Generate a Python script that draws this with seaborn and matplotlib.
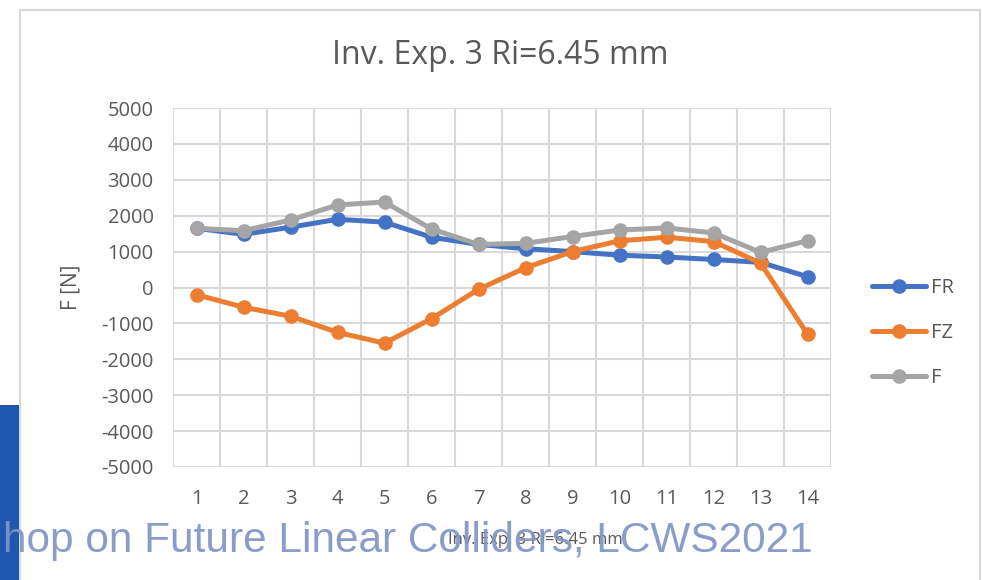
import matplotlib
matplotlib.use("Agg")
import matplotlib.pyplot as plt
from matplotlib.patches import Rectangle
import numpy as np
import pandas as pd
import seaborn as sns

# Measurement positions and force components [N]
positions = list(range(1, 15))
fr = [1650, 1480, 1680, 1900, 1820, 1400, 1200, 1080, 1000, 900, 850, 780, 700, 300]
fz = [-200, -550, -800, -1250, -1550, -870, -50, 550, 1000, 1300, 1400, 1280, 680, -1300]
f_total = [1650, 1580, 1880, 2300, 2380, 1630, 1200, 1230, 1420, 1600, 1660, 1520, 980, 1300]
series_names = ["FR", "FZ", "F"]
series_colors = ["#4472C4", "#ED7D31", "#A5A5A5"]
y_ticks = list(range(-5000, 5001, 1000))
x_labels = [str(p) for p in positions]

title_text = "Inv. Exp. 3 Ri=6.45 mm"
x_title = "Inv. Exp. 3 Ri=6.45 mm"
y_title = "F [N]"
banner_text = "hop on Future Linear Colliders, LCWS2021"

sns.set_theme(style="white")
plt.rcParams["font.family"] = ["Open Sans", "DejaVu Sans"]

W, H = 982, 580
fig = plt.figure(figsize=(W / 100, H / 100), dpi=100)
fig.patch.set_facecolor("white")

# chart frame and side bar
fig.patches.append(Rectangle((20 / W, -0.05), (980 - 20) / W, 1 - 10 / H + 0.05,
                             transform=fig.transFigure, fill=False,
                             edgecolor="#D9D9D9", linewidth=1.6, zorder=0))
fig.patches.append(Rectangle((0, 0), 19 / W, (H - 405) / H,
                             transform=fig.transFigure, facecolor="#1F56B0",
                             edgecolor="none", zorder=0))

ax = fig.add_axes([173 / W, 1 - 467 / H, (831 - 173) / W, (467 - 108) / H])
ax.set_facecolor("none")

df = pd.DataFrame({
    "pos": positions * 3,
    "value": fr + fz + f_total,
    "series": np.repeat(series_names, len(positions)),
})
sns.lineplot(data=df, x="pos", y="value", hue="series", hue_order=series_names,
             palette=series_colors, marker="o", markersize=10.5, markeredgewidth=0,
             linewidth=3.6, errorbar=None, sort=False, legend=False, ax=ax)
for ln in ax.lines:
    ln.set_solid_capstyle("round")
    ln.set_solid_joinstyle("round")

ax.set_xlim(0.5, 14.5)
ax.set_ylim(-5000, 5000)
ax.set_xticks(positions)
ax.set_xticklabels(x_labels)
ax.set_xticks(np.arange(0.5, 15, 1.0), minor=True)
ax.set_yticks(y_ticks)
ax.set_yticklabels([str(v) for v in y_ticks])
ax.set_axisbelow(True)
ax.grid(False)
ax.grid(which="minor", axis="x", color="#D9D9D9", linewidth=1.5)
ax.grid(which="major", axis="y", color="#D9D9D9", linewidth=1.5)
for s in ax.spines.values():
    s.set_visible(False)
ax.tick_params(axis="both", which="both", length=0, labelsize=14.5, colors="#595959")
ax.tick_params(axis="x", pad=15.5)
ax.tick_params(axis="y", pad=14)
ax.set_xlabel("")
ax.set_ylabel("")

leg = ax.legend(ax.lines, series_names, loc="center left",
                bbox_to_anchor=(864 / W, 1 - 333 / H), bbox_transform=fig.transFigure,
                frameon=False, fontsize=14.5, handlelength=2.7, handletextpad=0.25,
                labelspacing=1.25, borderaxespad=0)
for t in leg.get_texts():
    t.set_color("#595959")

fig.text(500 / W, 1 - 55 / H, title_text, ha="center", va="center",
         fontsize=23, color="#595959")
fig.text(71 / W, 1 - 287 / H, y_title, ha="center", va="center", rotation=90,
         fontsize=15, color="#595959")
fig.text(535 / W, 1 - 540 / H, x_title, ha="center", va="center",
         fontsize=12, color="#595959")
fig.text(3 / W, 1 - 552 / H, banner_text, ha="left", va="baseline",
         fontsize=30.5, family=["Liberation Sans", "DejaVu Sans"],
         color="#7F95C4", alpha=0.92, zorder=5)

fig.savefig("out.png", dpi=100)
